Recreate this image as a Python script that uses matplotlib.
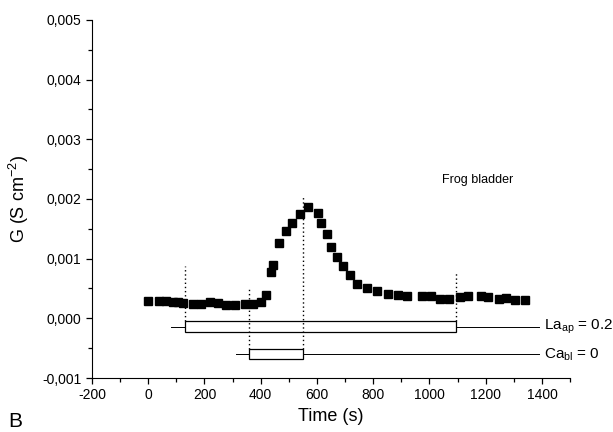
import matplotlib
matplotlib.use("Agg")
import matplotlib.pyplot as plt
from matplotlib.ticker import MultipleLocator, FuncFormatter
from matplotlib.patches import Rectangle

plt.rcParams['font.family'] = ['Liberation Sans', 'DejaVu Sans']
plt.rcParams['axes.unicode_minus'] = False

# conductance over time (frog bladder)
time_s = [0, 37, 65, 87, 105, 122, 158, 188, 218, 248, 277, 307, 343, 373, 402,
          420, 435, 445, 464, 490, 510, 539, 569, 603, 616, 634, 650, 670, 694,
          718, 744, 777, 815, 851, 889, 920, 974, 1005, 1038, 1068, 1108, 1138,
          1182, 1208, 1248, 1271, 1305, 1340]
g_vals = [0.000285, 0.00029, 0.00029, 0.00028, 0.000265, 0.000255, 0.000235,
          0.000245, 0.000265, 0.000255, 0.000228, 0.00023, 0.000235, 0.000245,
          0.000275, 0.00039, 0.00077, 0.0009, 0.00127, 0.00146, 0.0016, 0.00174,
          0.00187, 0.00177, 0.0016, 0.00142, 0.0012, 0.00103, 0.00087, 0.00073,
          0.00058, 0.0005, 0.00045, 0.00041, 0.00039, 0.00037, 0.00037, 0.00038,
          0.00033, 0.00033, 0.00036, 0.00037, 0.00037, 0.00035, 0.00032, 0.00034,
          0.00031, 0.00031]

# treatment periods
la_period = [130, 1093]
ca_period = [357, 551]
la_line = [81, 1391]
ca_line = [311, 1391]

# dotted markers: x, y top, y bottom
dot_x = [130, 357, 551, 1093]
dot_top = [0.00087, 0.0005, 0.00205, 0.00076]
dot_bot = [-0.00005, -0.00052, -0.00052, -0.00005]

fig = plt.figure(figsize=(6.13, 4.32), dpi=100)
ax = fig.add_axes([0.150, 0.125, 0.780, 0.829])

ax.plot(time_s, g_vals, 's', color='black', markersize=5.8, zorder=3)

for x, t, b in zip(dot_x, dot_top, dot_bot):
    ax.plot([x, x], [b, t], color='black', lw=1, linestyle=(0, (1, 2)))

# La bar
la_y0, la_y1 = -0.00023, -0.00005
ax.add_patch(Rectangle((la_period[0], la_y0), la_period[1] - la_period[0],
                       la_y1 - la_y0, fill=False, edgecolor='black', lw=0.9))
la_mid = (la_y0 + la_y1) / 2
ax.plot([la_line[0], la_period[0]], [la_mid, la_mid], color='black', lw=0.7)
ax.plot([la_period[1], la_line[1]], [la_mid, la_mid], color='black', lw=0.7)

# Ca bar
ca_y0, ca_y1 = -0.00069, -0.00052
ax.add_patch(Rectangle((ca_period[0], ca_y0), ca_period[1] - ca_period[0],
                       ca_y1 - ca_y0, fill=False, edgecolor='black', lw=0.9))
ca_mid = (ca_y0 + ca_y1) / 2
ax.plot([ca_line[0], ca_period[0]], [ca_mid, ca_mid], color='black', lw=0.7)
ax.plot([ca_period[1], ca_line[1]], [ca_mid, ca_mid], color='black', lw=0.7)

ax.text(1407, la_mid, r'La$_{\mathregular{ap}}$ = 0.2', fontsize=11, va='center', ha='left', clip_on=False)
ax.text(1407, ca_mid, r'Ca$_{\mathregular{bl}}$ = 0', fontsize=11, va='center', ha='left', clip_on=False)
ax.text(1170, 0.00232, 'Frog bladder', fontsize=9, ha='center', va='center')

ax.set_xlim(-200, 1500)
ax.set_ylim(-0.001, 0.005)
ax.xaxis.set_major_locator(MultipleLocator(200))
ax.xaxis.set_minor_locator(MultipleLocator(100))
ax.yaxis.set_major_locator(MultipleLocator(0.001))
ax.yaxis.set_minor_locator(MultipleLocator(0.0005))
ax.yaxis.set_major_formatter(FuncFormatter(lambda v, p: f"{v:.3f}".replace('.', ',').replace('-0,000', '0,000')))

for s in ['top', 'right']:
    ax.spines[s].set_visible(False)
ax.tick_params(which='both', direction='out', width=0.9, labelsize=10)
ax.tick_params(which='major', length=4)
ax.tick_params(which='minor', length=3)

ax.set_xlabel('Time (s)', fontsize=13, labelpad=4)
ax.set_ylabel(r'G (S cm$^{\mathregular{-2}}$)', fontsize=13, labelpad=8)

fig.text(0.013, 0.012, 'B', fontsize=15)

fig.savefig('out.png', dpi=100)
